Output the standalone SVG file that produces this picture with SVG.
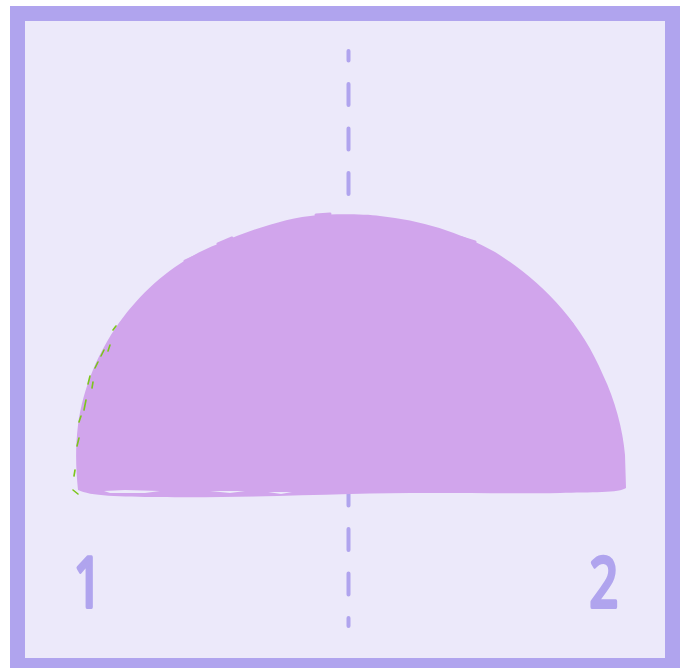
<svg xmlns="http://www.w3.org/2000/svg" width="686" height="668" viewBox="0 0 686 668">
<style>
.frame{fill:#ece9fa;stroke:#b0a4ee;stroke-width:15}
.axis{stroke:#b0a4ee;stroke-width:4;stroke-linecap:round;stroke-dasharray:21 23.5;stroke-dashoffset:11.5;fill:none}
.shape{fill:#d1a5ec}
.rough{fill:none;stroke:#d1a5ec;stroke-width:3;stroke-linecap:round}
.hatch{stroke:#7cc51c;stroke-width:1.6;stroke-linecap:round;fill:none}
.lbl{font-family:"Noto Sans",sans-serif;font-size:70px;font-weight:400;fill:#b0a4ee;stroke:#b0a4ee;stroke-width:4;stroke-linejoin:round;stroke-linecap:round;text-anchor:middle}
</style>
<rect id="frame" class="frame" x="17.5" y="13.5" width="655" height="652"/>
<g id="axis">
<line class="axis" x1="348.5" y1="51" x2="348.5" y2="626"/>
</g>
<g id="shape">
<path class="shape" d="M 78 490 C 76 470 75 450 78 425 C 90 340 150 270 218 244 C 250 230 285 218 318 215 C 335 214 365 214 380 216 C 420 220 460 232 495 252 C 540 280 580 320 603 375 C 615 400 623 430 625 455 L 626 488 C 620 493 590 492 560 493 C 500 494 420 492 350 494 C 280 496 210 498 160 497 C 120 497 90 496 78 490 Z"/>
<path class="rough" d="M 185 261 L 196 256 M 218 244 L 232 238 M 316 215 L 330 214 M 462 238 L 475 242 M 565 316 L 572 324 M 602 378 L 606 388 M 617 421 L 621 440"/>
<path fill="#ece9fa" d="M 104 491 L 125 490 L 160 491 L 145 493 L 110 493 Z M 210 491 L 245 491 L 230 493 Z M 268 492 L 292 492 L 281 494 Z"/>
</g>
<g id="hatching">
<path class="hatch" d="M 113 330 L 116 326 M 101 356 L 104 350 M 108 351 L 110 345 M 95 368 L 98 362 M 88 384 L 90 376 M 92 388 L 93 382 M 84 410 L 86 400 M 79 422 L 81 416 M 77 446 L 79 438 M 74 476 L 75 470 M 73 490 L 78 494"/>
</g>
<g id="labels">
<text id="label-1" class="lbl" transform="translate(88 607) scale(0.72 1)">1</text>
<text id="label-2" class="lbl" transform="translate(604 607) scale(0.72 1)">2</text>
</g>
</svg>
